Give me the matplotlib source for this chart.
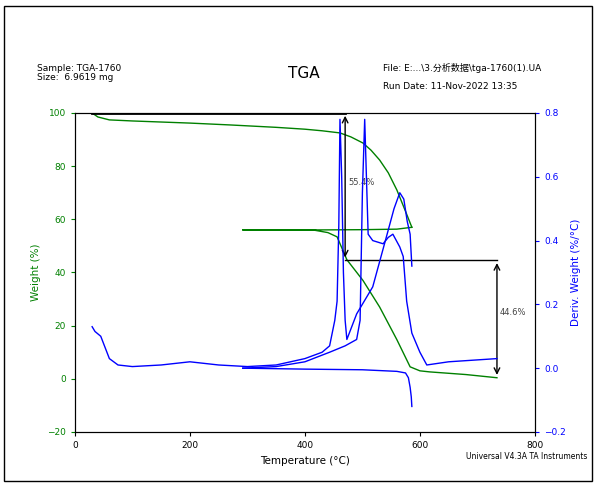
import matplotlib.pyplot as plt
from matplotlib.patches import Rectangle

plt.rcParams['font.family'] = ['DejaVu Sans', 'Noto Sans CJK SC']

# 第一次 TGA 曲線
temp1 = [30, 40, 60, 100, 150, 200, 270, 350, 400, 430, 461, 480, 501, 515, 530, 545, 560, 575, 586]
weight1 = [100, 98.5, 97.4, 97.0, 96.6, 96.2, 95.5, 94.6, 93.9, 93.3, 92.5, 91.0, 88.7, 86.0, 82.3, 77.5, 71, 63, 57]
# 第二段 TGA 曲線
temp2 = [586, 560, 500, 414, 292, 292, 414, 440, 456, 473, 501, 530, 560, 583, 600, 617, 680, 734]
weight2 = [57, 56.3, 56.1, 56.0, 56.0, 56.0, 56.0, 55.0, 53.4, 44.8, 37, 27, 14.7, 4.5, 3.0, 2.6, 1.6, 0.4]

# 微分曲線 (右軸)
d_temp1 = [30, 35, 45, 60, 75, 100, 150, 200, 250, 300, 350, 400, 430, 443, 452, 456, 459, 461, 464, 467,
           470, 473, 490, 518, 543, 555, 565, 572, 578, 583, 586]
d_val1 = [0.13, 0.115, 0.1, 0.03, 0.01, 0.005, 0.01, 0.02, 0.01, 0.005, 0.01, 0.03, 0.05, 0.07, 0.15, 0.21, 0.45, 0.78,
          0.6, 0.3, 0.15, 0.09, 0.17, 0.255, 0.42, 0.5, 0.55, 0.53, 0.46, 0.42, 0.32]
d_temp2 = [292, 350, 400, 443, 470, 490, 496, 500, 504, 507, 510, 518, 536, 545, 553, 565, 571, 577, 586, 600, 612,
           650, 734]
d_val2 = [0.0, 0.005, 0.02, 0.05, 0.07, 0.09, 0.15, 0.55, 0.78, 0.6, 0.42, 0.40, 0.39, 0.41, 0.42, 0.38, 0.35, 0.21,
          0.11, 0.05, 0.01, 0.02, 0.03]
d_temp3 = [292, 400, 500, 560, 575, 580, 583, 585, 586]
d_val3 = [0.0, -0.003, -0.005, -0.01, -0.015, -0.03, -0.06, -0.09, -0.12]

fig = plt.figure(figsize=(5.99, 4.87), dpi=100)
fig.patches.append(Rectangle((0.006, 0.012), 0.982, 0.975, transform=fig.transFigure,
                             fill=False, edgecolor='black', linewidth=1))
ax = fig.add_axes([0.125, 0.113, 0.768, 0.655])
ax2 = ax.twinx()

ax.plot(temp1, weight1, color='green', linewidth=1)
ax.plot(temp2, weight2, color='green', linewidth=1)
ax2.plot(d_temp1, d_val1, color='blue', linewidth=1)
ax2.plot(d_temp2, d_val2, color='blue', linewidth=1)
ax2.plot(d_temp3, d_val3, color='blue', linewidth=1)

# 標註
ax.plot([30, 470], [100, 100], color='black', linewidth=2)
ax.annotate('', xy=(470, 44.6), xytext=(470, 100),
            arrowprops=dict(arrowstyle='<->', color='black', lw=1))
ax.plot([470, 734], [44.6, 44.6], color='black', linewidth=1)
ax.annotate('', xy=(734, 0.4), xytext=(734, 44.6),
            arrowprops=dict(arrowstyle='<->', color='black', lw=1))
ax.text(475, 73, '55.4%', fontsize=6, color='#444444')
ax.text(738, 24, '44.6%', fontsize=6, color='#444444')

ax.set_xlim(0, 800)
ax.set_ylim(-20, 100)
ax2.set_ylim(-0.2, 0.8)
ax.set_xticks([0, 200, 400, 600, 800])
ax.set_yticks([-20, 0, 20, 40, 60, 80, 100])
ax2.set_yticks([-0.2, 0.0, 0.2, 0.4, 0.6, 0.8])
ax.tick_params(labelsize=6.5, length=3)
ax.tick_params(axis='y', colors='green')
ax2.tick_params(axis='y', colors='blue', labelsize=6.5, length=3)
ax.set_xlabel('Temperature (°C)', fontsize=7.5)
ax.set_ylabel('Weight (%)', fontsize=7.5, color='green')
ax2.set_ylabel('Deriv. Weight (%/°C)', fontsize=7.5, color='blue')

fig.text(0.062, 0.855, 'Sample: TGA-1760', fontsize=6.5)
fig.text(0.062, 0.835, 'Size:  6.9619 mg', fontsize=6.5)
fig.text(0.508, 0.84, 'TGA', fontsize=11, ha='center')
fig.text(0.64, 0.855, 'File: E:...\\3.分析数据\\tga-1760(1).UA', fontsize=6.5)
fig.text(0.64, 0.817, 'Run Date: 11-Nov-2022 13:35', fontsize=6.5)
fig.text(0.98, 0.058, 'Universal V4.3A TA Instruments', fontsize=5.5, ha='right')

fig.savefig('out.png', dpi=100)
